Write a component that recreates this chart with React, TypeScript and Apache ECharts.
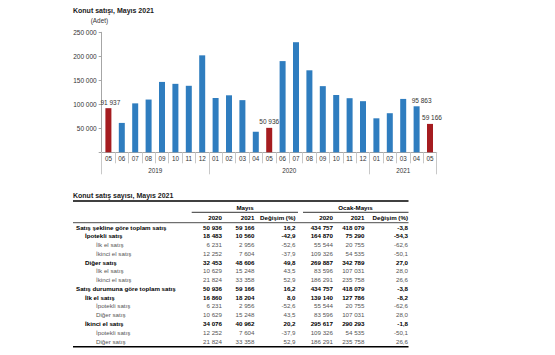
import React, { useEffect, useRef } from "react";
import * as echarts from "echarts";

// ---- Chart data ----
const periods = [
  "2019-05", "2019-06", "2019-07", "2019-08", "2019-09", "2019-10", "2019-11", "2019-12",
  "2020-01", "2020-02", "2020-03", "2020-04", "2020-05", "2020-06", "2020-07", "2020-08",
  "2020-09", "2020-10", "2020-11", "2020-12",
  "2021-01", "2021-02", "2021-03", "2021-04", "2021-05",
];
const salesValues = [
  91937, 61226, 101958, 109906, 146626, 142621, 138552, 202004,
  113185, 118753, 108670, 42783, 50936, 190012, 229357, 170830,
  137830, 119347, 112716, 106505,
  70819, 81441, 111215, 95863, 59166,
];
const highlighted = ["2019-05", "2020-05", "2021-05"];
const labelled = ["2019-05", "2020-05", "2021-04", "2021-05"];
const labelOffsets: Record<string, number[]> = { "2019-05": [2, 0], "2020-05": [0, 0], "2021-04": [5, 0], "2021-05": [2, 0] };
const yTicks = [0, 50000, 100000, 150000, 200000, 250000];

// ---- Table data ----
const tableRows = [
  "Satış şekline göre toplam satış", "İpotekli satış", "İlk el satış", "İkinci el satış",
  "Diğer satış", "İlk el satış", "İkinci el satış",
  "Satış durumuna göre toplam satış", "İlk el satış", "İpotekli satış", "Diğer satış",
  "İkinci el satış", "İpotekli satış", "Diğer satış",
];
const rowLevels = [0, 1, 2, 2, 1, 2, 2, 0, 1, 2, 2, 1, 2, 2];
const rowBold = [true, true, false, false, true, false, false, true, true, false, false, true, false, false];
const mayis2020 = ["50 936", "18 483", "6 231", "12 252", "32 453", "10 629", "21 824", "50 936", "16 860", "6 231", "10 629", "34 076", "12 252", "21 824"];
const mayis2021 = ["59 166", "10 560", "2 956", "7 604", "48 606", "15 248", "33 358", "59 166", "18 204", "2 956", "15 248", "40 962", "7 604", "33 358"];
const mayisChange = ["16,2", "-42,9", "-52,6", "-37,9", "49,8", "43,5", "52,9", "16,2", "8,0", "-52,6", "43,5", "20,2", "-37,9", "52,9"];
const ocak2020 = ["434 757", "164 870", "55 544", "109 326", "269 887", "83 596", "186 291", "434 757", "139 140", "55 544", "83 596", "295 617", "109 326", "186 291"];
const ocak2021 = ["418 079", "75 290", "20 755", "54 535", "342 789", "107 031", "235 758", "418 079", "127 786", "20 755", "107 031", "290 293", "54 535", "235 758"];
const ocakChange = ["-3,8", "-54,3", "-62,6", "-50,1", "27,0", "28,0", "26,6", "-3,8", "-8,2", "-62,6", "28,0", "-1,8", "-50,1", "26,6"];
const groupHeaders = ["Mayıs", "Ocak-Mayıs"];
const colHeaders = ["2020", "2021", "Değişim (%)", "2020", "2021", "Değişim (%)"];

const FONT = "'Liberation Sans', Arial, sans-serif";
const BLUE = "#2f7dbf";
const RED = "#a51c20";
const AXIS = "#a6a6a6";

const fmt = (v: number) => String(v).replace(/\B(?=(\d{3})+(?!\d))/g, " ");

export default function App() {
  const ref = useRef<HTMLDivElement>(null);
  useEffect(() => {
    if (!ref.current) return;
    const chart = echarts.init(ref.current, null, { renderer: "svg" });

    const gridLeft = 101.7, gridRight = 436.7;
    const band = (gridRight - gridLeft) / periods.length;

    // year spans
    const yearList: string[] = [];
    const yearStart: number[] = [];
    const yearCount: number[] = [];
    periods.forEach((p, i) => {
      const y = p.slice(0, 4);
      if (yearList[yearList.length - 1] !== y) {
        yearList.push(y);
        yearStart.push(i);
        yearCount.push(0);
      }
      yearCount[yearCount.length - 1]++;
    });
    const yearLabelIdx: Record<number, { text: string; shift: boolean }> = {};
    yearList.forEach((y, k) => {
      const c = yearCount[k];
      if (c % 2 === 0) yearLabelIdx[yearStart[k] + c / 2] = { text: y, shift: true };
      else yearLabelIdx[yearStart[k] + (c - 1) / 2] = { text: y, shift: false };
    });

    // table graphics
    const g: any[] = [];
    const txt = (x: number, y: number, text: string, opts: any = {}) =>
      g.push({
        type: "text",
        x,
        y,
        silent: true,
        style: {
          text,
          fontFamily: FONT,
          fontSize: opts.size ?? 6.2,
          fontWeight: opts.bold ? "bold" : "normal",
          fill: opts.fill ?? "#000",
          align: opts.align ?? "left",
          verticalAlign: "middle",
        },
      });
    const line = (x1: number, y1: number, x2: number, y2: number, w: number, c = "#000") =>
      g.push({ type: "line", silent: true, shape: { x1, y1, x2, y2 }, style: { stroke: c, lineWidth: w } });

    txt(73, 10, "Konut satışı, Mayıs 2021", { bold: true, size: 7, fill: "#1a1a1a" });
    txt(90.7, 20.7, "(Adet)", { size: 6.4, fill: "#333" });

    txt(73, 195, "Konut satış sayısı, Mayıs 2021", { bold: true, size: 7, fill: "#1a1a1a" });
    line(73, 201, 408.5, 201, 1.4);
    txt(245, 207.7, groupHeaders[0], { bold: true, align: "center" });
    txt(355.5, 207.7, groupHeaders[1], { bold: true, align: "center" });
    line(191.7, 212.3, 298, 212.3, 0.8);
    line(303, 212.3, 408.5, 212.3, 0.8);
    const colX = [222, 254.5, 295.5, 333, 364.5, 408];
    colHeaders.forEach((h, i) => txt(colX[i], 217.7, h, { bold: true, align: "right" }));
    line(73, 222.7, 408.5, 222.7, 0.7);
    const indent = [76, 85, 96];
    tableRows.forEach((label, r) => {
      const y = 227 + r * 8.77;
      const bold = rowBold[r];
      const fill = bold ? "#000" : "#555";
      txt(indent[rowLevels[r]], y, label, { bold, fill });
      const vals = [mayis2020[r], mayis2021[r], mayisChange[r], ocak2020[r], ocak2021[r], ocakChange[r]];
      vals.forEach((v, i) => txt(colX[i], y, v, { bold, fill, align: "right" }));
    });
    line(73, 346.7, 408.5, 346.7, 1.4);

    chart.setOption({
      animation: false,
      textStyle: { fontFamily: FONT },
      grid: { left: gridLeft, right: 555 - gridRight, top: 32.3, bottom: 355 - 152.3, containLabel: false },
      xAxis: [
        {
          type: "category",
          data: periods,
          position: "bottom",
          axisLine: { show: true, lineStyle: { color: AXIS, width: 1 } },
          axisTick: { show: true, interval: 0, length: 11, lineStyle: { color: "#c8c8c8", width: 1 } },
          axisLabel: {
            interval: 0,
            margin: 3.5,
            fontSize: 6.3,
            color: "#333",
            fontFamily: FONT,
            formatter: (v: string) => v.slice(5),
          },
        },
        {
          type: "category",
          data: periods,
          position: "bottom",
          axisLine: { show: false },
          axisTick: {
            show: true,
            length: 22,
            interval: (idx: number) => yearStart.includes(idx),
            lineStyle: { color: "#c8c8c8", width: 1 },
          },
          axisLabel: {
            interval: (idx: number) => yearLabelIdx[idx] !== undefined,
            margin: 15,
            fontSize: 6.3,
            color: "#333",
            fontFamily: FONT,
            formatter: (_v: string, idx: number) => {
              const it = yearLabelIdx[idx];
              if (!it) return "";
              return it.shift ? `{s|${it.text}}` : `{c|${it.text}}`;
            },
            rich: {
              s: { padding: [0, band, 0, 0], fontSize: 6.3, color: "#333", fontFamily: FONT },
              c: { fontSize: 6.3, color: "#333", fontFamily: FONT },
            },
          },
        },
      ],
      yAxis: {
        type: "value",
        min: yTicks[0],
        max: yTicks[yTicks.length - 1],
        interval: yTicks[1] - yTicks[0],
        splitLine: { show: false },
        axisLine: { show: true, lineStyle: { color: AXIS, width: 1 } },
        axisTick: { show: true, length: 3, lineStyle: { color: AXIS } },
        axisLabel: {
          margin: 5,
          fontSize: 6.5,
          color: "#333",
          fontFamily: FONT,
          formatter: (v: number) => (v === 0 ? "" : fmt(v)),
        },
      },
      series: [
        {
          type: "bar",
          xAxisIndex: 0,
          barWidth: 6,
          data: salesValues.map((v, i) => {
            const p = periods[i];
            return {
              value: v,
              itemStyle: { color: highlighted.includes(p) ? RED : BLUE },
              label: {
                show: labelled.includes(p),
                position: "top",
                distance: 2.5,
                offset: labelOffsets[p] ?? [0, 0],
                fontSize: 6.5,
                color: "#333",
                fontFamily: FONT,
                formatter: (d: any) => fmt(d.value),
              },
            };
          }),
        },
      ],
      graphic: g,
    });
    return () => chart.dispose();
  }, []);
  return <div ref={ref} style={{ position: "absolute", left: 0, top: 0, width: 555, height: 355 }} />;
}
